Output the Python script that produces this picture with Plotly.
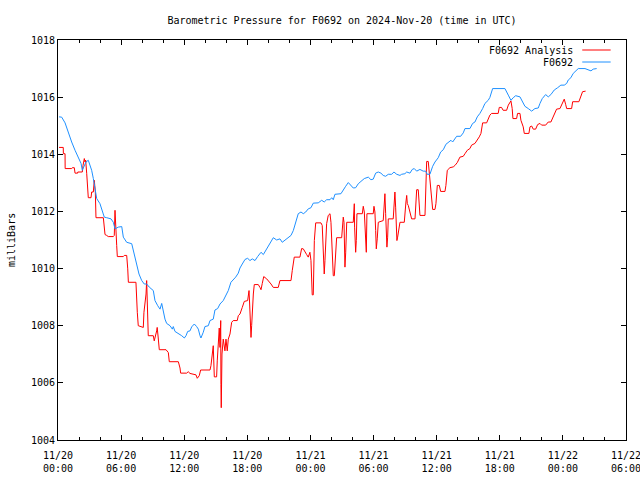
import datetime as dt
import plotly.graph_objects as go

# hours after 2024-11-20 00:00 UTC, pressure in mbar
station_hours = [0.10, 0.35, 0.67, 0.98, 1.30, 1.62, 1.93, 2.19, 2.31, 2.50, 2.66, 2.88, 3.04, 3.20, 3.36, 3.52, 3.68, 3.99, 4.15, 4.40,
                 4.63, 5.04, 5.26, 5.42, 5.73, 6.06, 6.21, 6.53, 7.01, 7.32, 7.48, 7.70, 7.96, 8.20, 8.43, 8.68, 9.06, 9.22, 9.48, 9.70,
                 9.86, 10.01, 10.17, 10.33, 10.65, 10.87, 10.96, 11.12, 11.44, 11.76, 12.01, 12.17, 12.33, 12.55, 12.71, 12.96, 13.18, 13.34, 13.50, 13.59,
                 13.81, 13.97, 14.29, 14.45, 14.76, 14.92, 15.18, 15.40, 15.71, 15.94, 16.19, 16.44, 16.66, 16.89, 17.14, 17.30, 17.52, 17.78, 18.03, 18.25,
                 18.47, 18.73, 18.98, 19.30, 19.52, 19.74, 19.99, 20.25, 20.47, 20.79, 21.10, 21.32, 21.58, 21.89, 22.15, 22.37, 22.60, 22.84, 23.10, 23.32,
                 23.55, 23.79, 24.05, 24.27, 24.74, 25.07, 25.31, 25.54, 25.86, 26.02, 26.17, 26.33, 26.90, 27.12, 27.35, 27.60, 27.85, 28.07, 28.30, 28.55,
                 28.80, 29.12, 29.50, 29.75, 29.97, 30.20, 30.45, 30.70, 30.92, 31.15, 31.40, 31.72, 31.94, 32.20, 32.51, 32.67, 32.98, 33.15, 33.46, 33.68,
                 33.87, 34.10, 34.41, 34.72, 34.95, 35.10, 35.36, 35.62, 35.84, 36.15, 36.38, 36.63, 36.88, 37.10, 37.36, 37.52, 37.67, 37.90, 38.28, 38.53,
                 38.69, 39.16, 39.42, 39.64, 39.86, 40.11, 40.37, 40.59, 40.90, 41.06, 41.32, 42.49, 42.81, 43.06, 43.28, 43.51, 43.92, 44.14, 44.39, 44.71,
                 45.03, 45.34, 45.66, 45.82, 46.04, 46.36, 46.61, 46.86, 47.18, 47.50, 47.81, 48.13, 48.36, 48.51, 48.76, 48.98, 49.31, 49.46, 50.10, 50.41,
                 50.67, 50.88, 51.21]
station_mbar = [1015.31, 1015.30, 1015.10, 1014.73, 1014.43, 1014.14, 1013.90, 1013.68, 1013.44, 1013.61, 1013.73, 1013.79, 1013.61, 1013.44, 1013.15, 1012.74, 1012.45, 1012.27, 1012.09, 1011.80,
                1011.78, 1011.74, 1011.62, 1011.39, 1011.45, 1011.47, 1011.10, 1010.92, 1010.87, 1010.40, 1010.05, 1009.81, 1009.58, 1009.46, 1009.46, 1009.35, 1009.23, 1008.88, 1008.70, 1008.58,
                1008.78, 1008.47, 1008.23, 1008.08, 1008.00, 1007.88, 1007.97, 1007.80, 1007.73, 1007.65, 1007.57, 1007.65, 1007.80, 1007.82, 1007.96, 1008.06, 1007.97, 1007.88, 1007.65, 1007.57,
                1007.77, 1007.97, 1008.00, 1008.18, 1008.23, 1008.55, 1008.60, 1008.76, 1008.88, 1009.05, 1009.23, 1009.52, 1009.60, 1009.70, 1009.84, 1010.02, 1010.16, 1010.32, 1010.36, 1010.28,
                1010.34, 1010.28, 1010.42, 1010.57, 1010.49, 1010.63, 1010.75, 1010.92, 1011.08, 1011.00, 1011.04, 1010.92, 1011.00, 1011.08, 1011.16, 1011.33, 1011.62, 1011.92, 1011.98, 1011.92,
                1011.98, 1012.09, 1012.13, 1012.29, 1012.30, 1012.39, 1012.33, 1012.41, 1012.41, 1012.48, 1012.41, 1012.60, 1012.62, 1012.76, 1012.88, 1013.01, 1012.91, 1012.82, 1012.83, 1012.97,
                1013.05, 1013.15, 1013.20, 1013.11, 1013.13, 1013.34, 1013.38, 1013.34, 1013.26, 1013.23, 1013.30, 1013.30, 1013.38, 1013.30, 1013.26, 1013.30, 1013.32, 1013.38, 1013.34, 1013.47,
                1013.50, 1013.41, 1013.47, 1013.41, 1013.41, 1013.30, 1013.30, 1013.58, 1013.73, 1013.88, 1014.08, 1014.16, 1014.35, 1014.43, 1014.49, 1014.43, 1014.52, 1014.63, 1014.63, 1014.75,
                1014.90, 1014.90, 1015.08, 1015.13, 1015.31, 1015.43, 1015.60, 1015.78, 1015.89, 1015.99, 1016.30, 1016.30, 1016.07, 1015.89, 1015.98, 1016.05, 1016.01, 1015.84, 1015.68, 1015.60,
                1015.51, 1015.60, 1015.62, 1015.78, 1015.95, 1016.09, 1016.01, 1016.09, 1016.25, 1016.33, 1016.42, 1016.42, 1016.48, 1016.60, 1016.68, 1016.83, 1016.95, 1017.00, 1017.00, 1016.97,
                1016.92, 1016.98, 1017.00]

analysis_hours = [0.10, 0.50, 0.51, 0.67, 0.68, 1.30, 1.36, 1.55, 1.62, 1.87, 1.88, 2.31, 2.38, 2.50, 2.57, 2.63, 2.73, 2.79, 2.88, 3.14,
                  3.20, 3.36, 3.45, 3.55, 3.58, 3.61, 4.31, 4.40, 4.47, 4.63, 4.78, 5.26, 5.35, 5.42, 5.48, 5.58, 5.64, 6.21, 6.30, 6.53,
                  6.63, 6.69, 7.41, 7.44, 7.54, 7.63, 7.96, 8.11, 8.17, 8.37, 8.43, 8.49, 8.58, 9.06, 9.15, 9.38, 9.43, 9.53, 9.63, 10.27,
                  10.49, 10.58, 11.44, 11.60, 11.66, 12.23, 12.38, 12.55, 13.12, 13.24, 13.43, 13.56, 14.45, 14.54, 14.70, 14.76, 14.86, 15.08, 15.14, 15.24,
                  15.33, 15.40, 15.47, 15.49, 15.52, 15.59, 15.71, 15.87, 15.97, 16.09, 16.19, 16.35, 16.51, 16.66, 17.04, 17.14, 17.30, 17.52, 17.71, 18.03,
                  18.09, 18.16, 18.22, 18.28, 18.35, 18.41, 18.47, 18.57, 18.66, 19.04, 19.20, 19.30, 19.42, 19.56, 19.84, 19.99, 20.25, 20.47, 20.94, 21.10,
                  22.15, 22.27, 22.46, 23.00, 23.16, 23.32, 23.48, 23.64, 23.79, 23.95, 24.05, 24.12, 24.17, 24.27, 24.31, 24.37, 24.50, 25.00, 25.12, 25.22,
                  25.31, 25.38, 25.45, 25.54, 25.69, 25.86, 25.95, 26.02, 26.08, 26.17, 26.27, 26.33, 26.39, 26.49, 26.97, 27.03, 27.12, 27.19, 27.22, 27.28,
                  27.35, 27.45, 28.07, 28.14, 28.17, 28.20, 28.23, 28.30, 28.36, 28.42, 28.93, 29.02, 29.12, 29.18, 29.25, 29.31, 29.37, 29.97, 30.04, 30.13,
                  30.20, 30.26, 30.35, 30.45, 30.92, 31.02, 31.08, 31.15, 31.21, 31.27, 31.34, 31.40, 31.87, 31.97, 32.03, 32.10, 32.16, 32.22, 32.29, 32.41,
                  32.51, 32.92, 32.98, 33.08, 33.15, 33.21, 33.30, 33.46, 33.62, 33.94, 34.03, 34.10, 34.25, 34.32, 34.41, 34.89, 34.98, 35.05, 35.20, 35.30,
                  35.43, 35.52, 35.62, 35.84, 35.93, 36.06, 36.25, 36.38, 36.79, 36.88, 37.01, 37.26, 37.58, 37.74, 37.96, 38.21, 38.53, 38.69, 38.91, 39.16,
                  39.32, 39.64, 39.86, 40.05, 40.21, 40.28, 40.37, 40.75, 40.90, 41.06, 41.22, 41.85, 41.95, 42.17, 42.32, 42.65, 42.81, 42.97, 43.06, 43.18,
                  43.25, 43.60, 43.69, 43.92, 44.01, 44.23, 44.33, 44.77, 44.87, 45.03, 45.18, 45.41, 45.60, 45.82, 45.98, 46.36, 46.61, 46.86, 47.08, 47.24,
                  47.40, 47.72, 47.94, 48.13, 48.26, 48.36, 48.83, 48.93, 49.52, 49.71, 49.87, 50.16]
analysis_mbar = [1014.24, 1014.24, 1014.02, 1014.02, 1013.50, 1013.50, 1013.53, 1013.53, 1013.34, 1013.34, 1013.38, 1013.38, 1013.61, 1013.85, 1013.73, 1013.80, 1013.32, 1012.74, 1012.48, 1012.48,
                 1012.68, 1012.68, 1013.09, 1012.68, 1012.27, 1011.78, 1011.78, 1011.39, 1011.19, 1011.16, 1011.12, 1011.12, 1011.16, 1012.04, 1011.22, 1010.81, 1010.42, 1010.42, 1010.46, 1010.46,
                 1009.99, 1009.52, 1009.52, 1009.17, 1008.47, 1008.00, 1007.94, 1007.94, 1008.47, 1009.11, 1009.58, 1008.88, 1007.65, 1007.65, 1007.47, 1007.82, 1007.94, 1007.57, 1007.16, 1007.16,
                 1007.06, 1006.74, 1006.74, 1006.52, 1006.34, 1006.34, 1006.39, 1006.33, 1006.28, 1006.16, 1006.25, 1006.45, 1006.45, 1006.60, 1007.12, 1007.30, 1006.21, 1006.21, 1006.77, 1007.59,
                 1007.92, 1007.24, 1008.18, 1005.95, 1005.13, 1007.01, 1007.53, 1007.12, 1007.53, 1007.12, 1007.53, 1007.71, 1008.12, 1008.18, 1008.18, 1008.35, 1008.41, 1008.64, 1008.85, 1008.88,
                 1009.11, 1009.23, 1008.76, 1008.00, 1007.59, 1008.00, 1008.64, 1009.11, 1009.44, 1009.44, 1009.34, 1009.26, 1009.48, 1009.72, 1009.64, 1009.58, 1009.46, 1009.34, 1009.34, 1009.58,
                 1009.58, 1009.93, 1010.40, 1010.40, 1010.70, 1010.69, 1010.57, 1010.49, 1010.40, 1010.57, 1010.28, 1009.70, 1009.08, 1009.08, 1009.70, 1010.98, 1011.60, 1011.60, 1011.51, 1010.28,
                 1009.81, 1010.28, 1011.22, 1011.57, 1011.86, 1011.92, 1011.62, 1011.10, 1010.28, 1009.75, 1009.75, 1010.11, 1010.75, 1011.08, 1011.08, 1011.33, 1011.80, 1011.62, 1010.81, 1010.05,
                 1010.55, 1011.62, 1011.62, 1011.92, 1012.27, 1011.45, 1010.98, 1010.57, 1010.98, 1011.92, 1011.92, 1012.18, 1011.98, 1011.33, 1011.04, 1010.57, 1011.92, 1011.92, 1012.18, 1011.98,
                 1011.33, 1010.69, 1011.04, 1011.62, 1011.68, 1012.27, 1012.62, 1011.92, 1011.10, 1010.75, 1011.10, 1011.74, 1011.74, 1012.15, 1012.68, 1012.15, 1011.45, 1010.98, 1011.10, 1011.39,
                 1011.62, 1011.62, 1012.09, 1012.33, 1012.56, 1012.27, 1012.21, 1011.98, 1011.74, 1011.74, 1012.27, 1012.76, 1012.76, 1012.27, 1011.86, 1011.86, 1012.85, 1013.75, 1013.75, 1013.32,
                 1012.74, 1012.27, 1012.07, 1012.07, 1012.27, 1012.91, 1012.91, 1012.70, 1012.70, 1012.91, 1013.44, 1013.53, 1013.56, 1013.61, 1013.71, 1013.90, 1013.93, 1014.02, 1014.14, 1014.20,
                 1014.32, 1014.38, 1014.49, 1014.61, 1014.73, 1014.96, 1015.10, 1015.10, 1015.25, 1015.37, 1015.43, 1015.43, 1015.64, 1015.64, 1015.54, 1015.54, 1015.72, 1015.84, 1015.87, 1015.60,
                 1015.25, 1015.25, 1015.43, 1015.43, 1015.19, 1014.96, 1014.73, 1014.73, 1014.96, 1014.99, 1014.88, 1014.88, 1015.04, 1015.08, 1015.02, 1015.02, 1015.13, 1015.13, 1015.31, 1015.43,
                 1015.58, 1015.60, 1015.78, 1015.93, 1015.75, 1015.60, 1015.60, 1015.84, 1015.84, 1016.01, 1016.19, 1016.21]

y_ticks = [1004, 1006, 1008, 1010, 1012, 1014, 1016, 1018]
start = dt.datetime(2024, 11, 20, 0, 0)
end = dt.datetime(2024, 11, 22, 6, 0)

def to_time(hours):
    return [start + dt.timedelta(hours=h) for h in hours]

FONT = "DejaVu Sans Mono"
RED = "#ff0000"
BLUE = "#1e90ff"

fig = go.Figure()
fig.add_trace(go.Scatter(x=to_time(analysis_hours), y=analysis_mbar, mode="lines",
                         name="F0692 Analysis", line=dict(color=RED, width=1)))
fig.add_trace(go.Scatter(x=to_time(station_hours), y=station_mbar, mode="lines",
                         name="F0692", line=dict(color=BLUE, width=1)))

W, H = 640, 480
fig.update_layout(
    width=W, height=H,
    margin=dict(l=58, r=14, t=40, b=40, autoexpand=False),
    paper_bgcolor="white", plot_bgcolor="white",
    showlegend=False,
    font=dict(family=FONT, size=10, color="black"),
    title=dict(text="Barometric Pressure for F0692 on 2024-Nov-20 (time in UTC)",
               x=0.5, xref="paper", xanchor="center",
               y=1 - 20 / H, yref="container", yanchor="middle",
               font=dict(family=FONT, size=10, color="black")),
)
fig.update_xaxes(
    type="date", range=[start, end], dtick=6 * 3600 * 1000, tick0=start,
    tickformat="%m/%d<br>%H:%M", ticks="inside", ticklen=5, tickcolor="black",
    ticklabeloverflow="allow", ticklabelstandoff=6, automargin=False,
    showline=True, linecolor="black", linewidth=1, mirror="allticks",
    showgrid=False, zeroline=False,
    minor=dict(dtick=2 * 3600 * 1000, ticks="inside", ticklen=3, tickcolor="black", showgrid=False),
    tickfont=dict(family=FONT, size=10, color="black"),
)
fig.update_yaxes(
    range=[1004, 1018], tickvals=y_ticks, ticktext=[str(v) for v in y_ticks],
    ticks="inside", ticklen=5, tickcolor="black", automargin=False,
    showline=True, linecolor="black", linewidth=1, mirror="allticks",
    showgrid=False, zeroline=False,
    tickfont=dict(family=FONT, size=10, color="black"),
)

# y-axis label
fig.add_annotation(text="milliBars", textangle=-90, xref="paper", yref="paper",
                   x=-(58 - 11) / 568, y=0.5, xanchor="center", yanchor="middle", showarrow=False,
                   font=dict(family=FONT, size=10, color="black"))

# gnuplot-style key: text right-aligned, sample line on the right
key_entries = [("F0692 Analysis", RED, 0.975), ("F0692", BLUE, 0.945)]
for label, color, ky in key_entries:
    fig.add_annotation(text=label, xref="paper", yref="paper", x=0.911, y=ky,
                       xanchor="right", yanchor="middle", showarrow=False,
                       font=dict(family=FONT, size=10, color="black"))
    fig.add_shape(type="line", xref="paper", yref="paper", x0=0.923, x1=0.973, y0=ky, y1=ky,
                  line=dict(color=color, width=1))

fig.write_html("out.html", config={"displayModeBar": False},
               post_script="document.body.style.margin='0';document.body.style.overflow='hidden';")
